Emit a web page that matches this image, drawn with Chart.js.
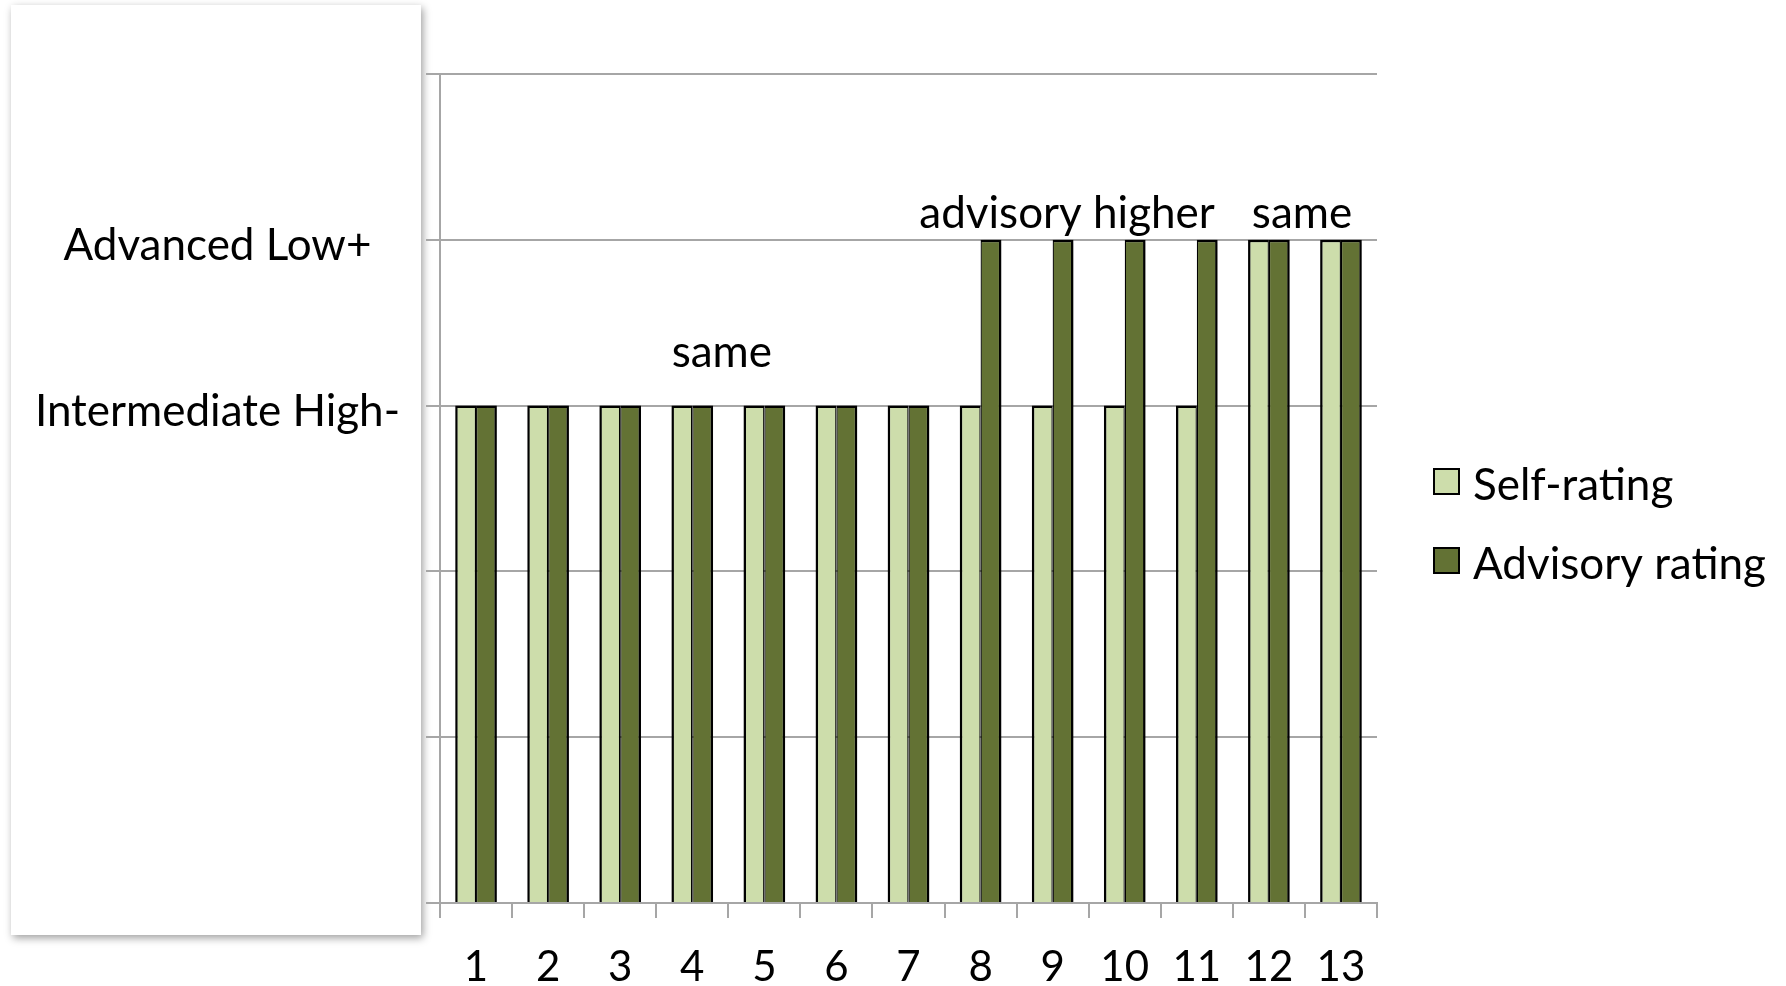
<!DOCTYPE html>
<html>
<head>
<meta charset="utf-8">
<script src="https://cdn.jsdelivr.net/npm/chart.js@4.4.1/dist/chart.umd.min.js"></script>
<style>
  html, body { margin: 0; padding: 0; background: #ffffff; }
  #wrap { width: 1786px; height: 986px; }
</style>
</head>
<body>
<div id="wrap"><canvas id="ratings" width="1786" height="986"></canvas></div>
<script>
// Students 1–13 and their proficiency ratings (0–5 scale, 3 = Intermediate High-, 4 = Advanced Low+)
const students = ['1', '2', '3', '4', '5', '6', '7', '8', '9', '10', '11', '12', '13'];
const selfRating = [3, 3, 3, 3, 3, 3, 3, 3, 3, 3, 3, 4, 4];
const advisoryRating = [3, 3, 3, 3, 3, 3, 3, 4, 4, 4, 4, 4, 4];

// Named proficiency levels shown on the value axis
const levelValues = [3, 4];
const levelNames = ['Intermediate High-', 'Advanced Low+'];

// Group notes: text, anchor on the student axis (category index), anchor on the rating axis (baseline)
const noteTexts = ['same', 'advisory higher', 'same'];
const noteStudent = [3.41, 8.2, 11.46];
const noteLevel = [3.23, 4.07, 4.07];

const FONT = 'Lato';
const GRID = '#A6A6A6';

// White label card with a soft drop shadow behind the level names
const labelCard = {
  id: 'labelCard',
  beforeDraw(chart) {
    const ctx = chart.ctx;
    ctx.save();
    ctx.shadowColor = 'rgba(0,0,0,0.38)';
    ctx.shadowBlur = 8;
    ctx.shadowOffsetX = 2;
    ctx.shadowOffsetY = 3;
    ctx.fillStyle = '#ffffff';
    ctx.fillRect(11, 5, 410, 930);
    ctx.restore();
  }
};

// Slight shadow under the bars, and the group notes above them
const barsAndNotes = {
  id: 'barsAndNotes',
  beforeDatasetsDraw(chart) {
    const ctx = chart.ctx;
    ctx.save();
    ctx.shadowColor = 'rgba(0,0,0,0.35)';
    ctx.shadowBlur = 4;
    ctx.shadowOffsetX = 1;
    ctx.shadowOffsetY = 1;
  },
  afterDatasetsDraw(chart) {
    const ctx = chart.ctx;
    ctx.restore();
    const xs = chart.scales.x, ys = chart.scales.y;
    ctx.save();
    ctx.font = '44px ' + FONT;
    ctx.fillStyle = '#000000';
    ctx.textAlign = 'center';
    ctx.textBaseline = 'alphabetic';
    noteTexts.forEach((t, i) => {
      ctx.fillText(t, xs.getPixelForValue(noteStudent[i]), ys.getPixelForValue(noteLevel[i]));
    });
    ctx.restore();
  }
};

// Series key to the right of the plot, built from the datasets
const seriesKey = {
  id: 'seriesKey',
  afterDraw(chart) {
    const ctx = chart.ctx;
    const left = chart.chartArea.right + 56;
    const top = 468;
    const step = 79;
    const box = 27;
    ctx.save();
    ctx.font = '44px ' + FONT;
    ctx.textAlign = 'left';
    ctx.textBaseline = 'middle';
    chart.data.datasets.forEach((ds, i) => {
      const y = top + i * step;
      ctx.fillStyle = ds.backgroundColor;
      ctx.fillRect(left, y, box, box);
      ctx.lineWidth = 2;
      ctx.strokeStyle = ds.borderColor;
      ctx.strokeRect(left + 1, y + 1, box - 2, box - 2);
      ctx.fillStyle = '#000000';
      ctx.fillText(ds.label, left + box + 13, y + box / 2 + 4);
    });
    ctx.restore();
  }
};

function draw() {
  Chart.defaults.font.family = FONT;
  Chart.defaults.color = '#000000';

  new Chart(document.getElementById('ratings'), {
    type: 'bar',
    data: {
      labels: students,
      datasets: [
        {
          label: 'Self-rating',
          data: selfRating,
          backgroundColor: '#CDDDAB',
          borderColor: '#000000',
          borderWidth: { top: 2.5, left: 2.5, right: 1.25, bottom: 2.5 }
        },
        {
          label: 'Advisory rating',
          data: advisoryRating,
          backgroundColor: '#637234',
          borderColor: '#000000',
          borderWidth: { top: 2.5, left: 1.25, right: 2.5, bottom: 2.5 }
        }
      ]
    },
    options: {
      responsive: false,
      animation: false,
      datasets: { bar: { barPercentage: 1, categoryPercentage: 0.578 } },
      layout: { padding: { top: 74, bottom: 0, left: 0, right: 409 } },
      scales: {
        x: {
          grid: { drawOnChartArea: false, drawTicks: true, tickLength: 15, color: GRID, lineWidth: 2, offset: true },
          border: { color: GRID, width: 2 },
          ticks: { font: { size: 42 }, color: '#000000', padding: 24, maxRotation: 0, autoSkip: false },
          afterFit(scale) { scale.height = 83; }
        },
        y: {
          min: 0,
          max: 5,
          grid: { color: GRID, lineWidth: 2, tickLength: 14 },
          border: { color: GRID, width: 2 },
          ticks: {
            stepSize: 1,
            padding: 26,
            crossAlign: 'center',
            labelOffset: 6,
            font: { size: 44 },
            color: '#000000',
            callback(value) {
              const i = levelValues.indexOf(value);
              return i < 0 ? '' : levelNames[i];
            }
          },
          afterFit(scale) { scale.width = 440; }
        }
      },
      plugins: {
        legend: { display: false },
        tooltip: { enabled: false }
      }
    },
    plugins: [labelCard, barsAndNotes, seriesKey]
  });
}

if (document.fonts && document.fonts.load) {
  document.fonts.load('44px ' + FONT).then(draw, draw);
} else {
  draw();
}
</script>
</body>
</html>
